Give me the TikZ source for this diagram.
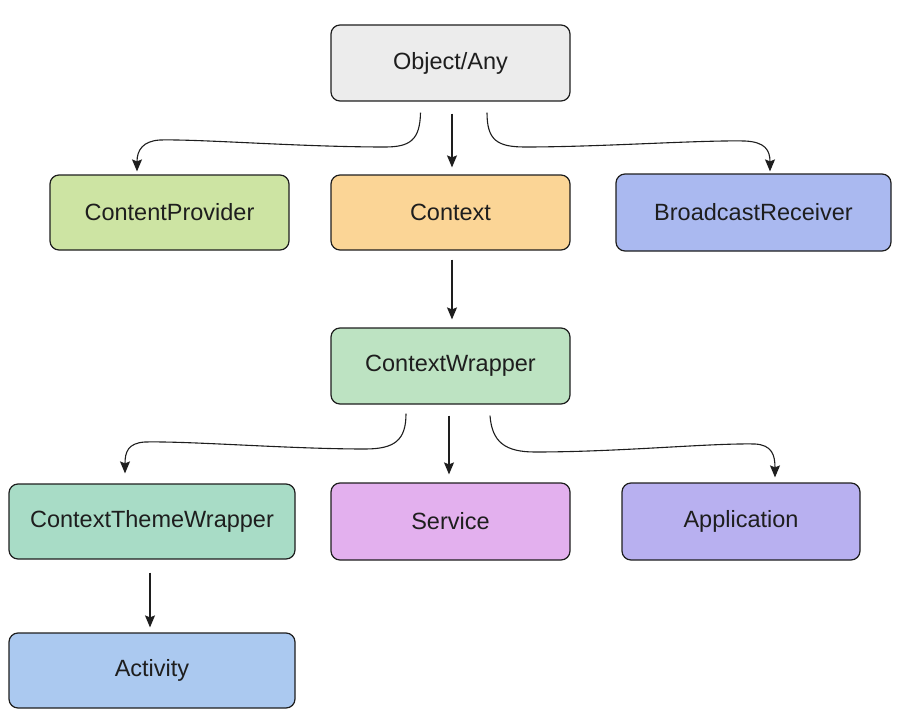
\documentclass[tikz,border=0pt]{standalone}
\usepackage{fontspec}
\setmainfont{Liberation Sans}
\usetikzlibrary{arrows.meta}
\definecolor{cgray}{HTML}{ECECEC}
\definecolor{cpgreen}{HTML}{CDE4A3}
\definecolor{ctxorange}{HTML}{FBD596}
\definecolor{brblue}{HTML}{AAB9F0}
\definecolor{cwgreen}{HTML}{BDE3C2}
\definecolor{ctwteal}{HTML}{A8DCC6}
\definecolor{svcpink}{HTML}{E3B0EE}
\definecolor{appviolet}{HTML}{B8B0F0}
\definecolor{actblue}{HTML}{ABC9F0}
\definecolor{ink}{HTML}{1E1E1E}
\begin{document}
\begin{tikzpicture}[x=1pt,y=-1pt,
  box/.style={draw=ink, line width=1.2pt, rounded corners=9pt, inner sep=0pt,
    font=\fontsize{23.5}{26}\selectfont, text=ink},
  conn/.style={line width=1.1pt, draw=ink, -{Stealth[length=12pt,width=10pt,inset=2pt]}}]
\useasboundingbox (0,0) rectangle (903,717);
\node[box, fill=cgray, minimum width=239pt, minimum height=76pt] (obj) at (450.5,63) {Object/Any};
\node[box, fill=cpgreen, minimum width=239pt, minimum height=75pt] (cp) at (169.5,212.5) {ContentProvider};
\node[box, fill=ctxorange, minimum width=239pt, minimum height=75pt] (ctx) at (450.5,212.5) {Context};
\node[box, fill=brblue, minimum width=275pt, minimum height=77pt] (br) at (753.5,212.5) {BroadcastReceiver};
\node[box, fill=cwgreen, minimum width=239pt, minimum height=76pt] (cw) at (450.5,366) {ContextWrapper};
\node[box, fill=ctwteal, minimum width=286pt, minimum height=75pt] (ctw) at (152,521.5) {ContextThemeWrapper};
\node[box, fill=svcpink, minimum width=239pt, minimum height=77pt] (svc) at (450.5,521.5) {Service};
\node[box, fill=appviolet, minimum width=238pt, minimum height=77pt] (app) at (741,521.5) {Application};
\node[box, fill=actblue, minimum width=286pt, minimum height=75pt] (act) at (152,670.5) {Activity};

\draw[conn] ([xshift=1.5pt,yshift=-12pt]obj.south) -- ([xshift=1.5pt,yshift=7pt]ctx.north);
\draw[conn] ([xshift=1.5pt,yshift=-9pt]ctx.south) -- ([xshift=1.5pt,yshift=8pt]cw.north);
\draw[conn] ([xshift=-1.5pt,yshift=-11pt]cw.south) -- ([xshift=-1.5pt,yshift=8pt]svc.north);
\draw[conn] ([xshift=-2pt,yshift=-13pt]ctw.south) -- ([xshift=-2pt,yshift=5pt]act.north);

\draw[conn] ([xshift=-30pt,yshift=-11pt]obj.south) .. controls (420,140) and (410,147) .. (385,147)
  .. controls (300,147) and (200,139) .. (160,140)
  .. controls (143,141) and (137,150) .. ([xshift=-32.5pt,yshift=3pt]cp.north);
\draw[conn] ([xshift=36.5pt,yshift=-11pt]obj.south) .. controls (487,140) and (497,147) .. (525,147)
  .. controls (600,147) and (700,140) .. (745,141)
  .. controls (765,142) and (770,150) .. ([xshift=16.5pt,yshift=2pt]br.north);
\draw[conn] ([xshift=-44.5pt,yshift=-9pt]cw.south) .. controls (406,440) and (395,449) .. (365,449)
  .. controls (290,449) and (190,441) .. (145,442)
  .. controls (128,443) and (125,452) .. ([xshift=-27pt,yshift=10pt]ctw.north);
\draw[conn] ([xshift=39.5pt,yshift=-11pt]cw.south) .. controls (492,442) and (505,452) .. (535,452)
  .. controls (620,452) and (710,443) .. (755,444)
  .. controls (772,445) and (775,455) .. ([xshift=34pt,yshift=5pt]app.north);
\end{tikzpicture}
\end{document}
